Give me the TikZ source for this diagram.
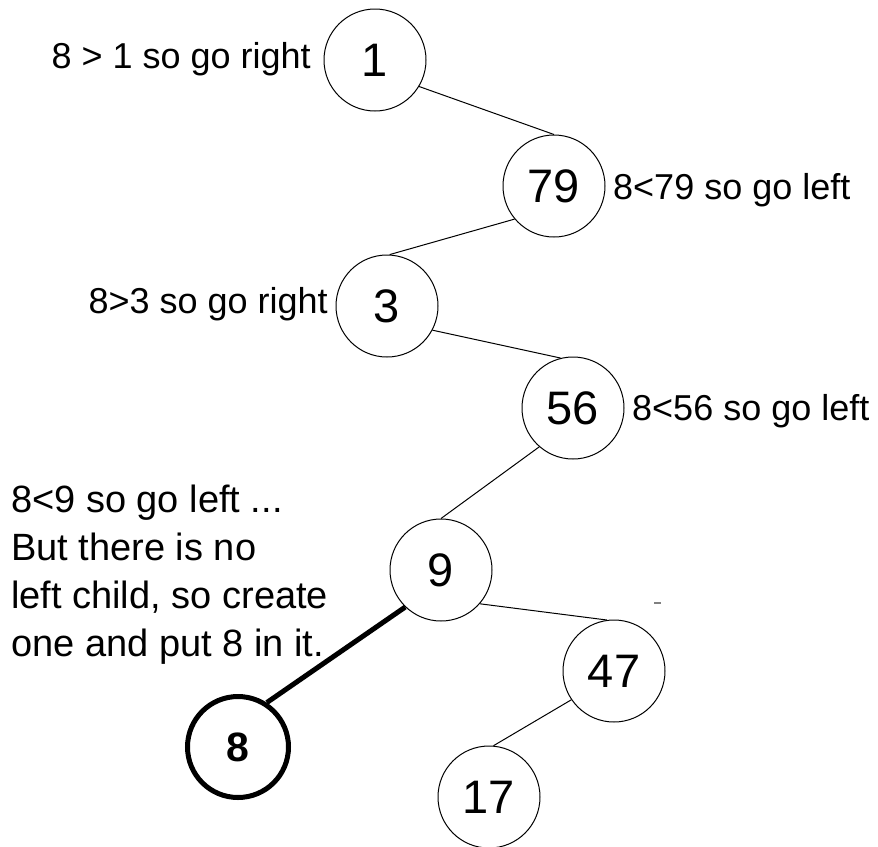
\documentclass[tikz,border=0pt]{standalone}
\usepackage{fontspec}
\setmainfont{Liberation Sans}
\begin{document}
\begin{tikzpicture}[x=1pt,y=-1pt,
  keynode/.style={circle,draw,line width=1pt,minimum size=102pt,inner sep=0pt,
    font=\fontsize{47}{47}\selectfont},
  newnode/.style={circle,draw,line width=5pt,minimum size=101pt,inner sep=0pt,
    font=\fontsize{41}{41}\selectfont\bfseries},
  link/.style={line width=1pt},
  newlink/.style={line width=5pt},
  note/.style={inner sep=0pt,font=\fontsize{36}{48}\selectfont},
  bignote/.style={inner sep=0pt,font=\fontsize{38}{48}\selectfont}]
\useasboundingbox (0,0) rectangle (878,846);

% tree nodes
\node[keynode] (n1)  at (375,60)  {1};
\node[keynode] (n79) at (554,186) {79};
\node[keynode] (n3)  at (387,306) {3};
\node[keynode] (n56) at (573,408) {56};
\node[keynode] (n9)  at (441,570) {9};
\node[keynode] (n47) at (614,671) {47};
\node[newnode] (n8)  at (238,747) {8};
\node[keynode] (n17) at (489,797) {17};

% links between parent and child
\draw[link] (n1.-31)  -- (n79.90);
\draw[link] (n79.220) -- (n3.87);
\draw[link] (n3.-28)  -- (n56.104);
\draw[link] (n56.229) -- (n9.90);
\draw[link] (n9.-41)  -- (n47.98);
\draw[link] (n47.214) -- (n17.85);
\draw[newlink] (n9.226) -- (n8.57);

% comparison notes
\node[note,anchor=base east] (c1)  at (311,68)  {8 > 1 so go right};
\node[note,anchor=base west] (c79) at (613,199) {8<79 so go left};
\node[note,anchor=base east] (c3)  at (328,313) {8>3 so go right};
\node[note,anchor=base west] (c56) at (632,420) {8<56 so go left};
\node[bignote,anchor=north west,align=left] (c9) at (11,485)
  {8<9 so go left ...\\But there is no\\left child, so create\\one and put 8 in it.};

% small stray tick
\coordinate (t1) at (654,603);
\coordinate (t2) at (661,603);
\draw[gray,line width=1.5pt] (t1) -- (t2);
\end{tikzpicture}
\end{document}
